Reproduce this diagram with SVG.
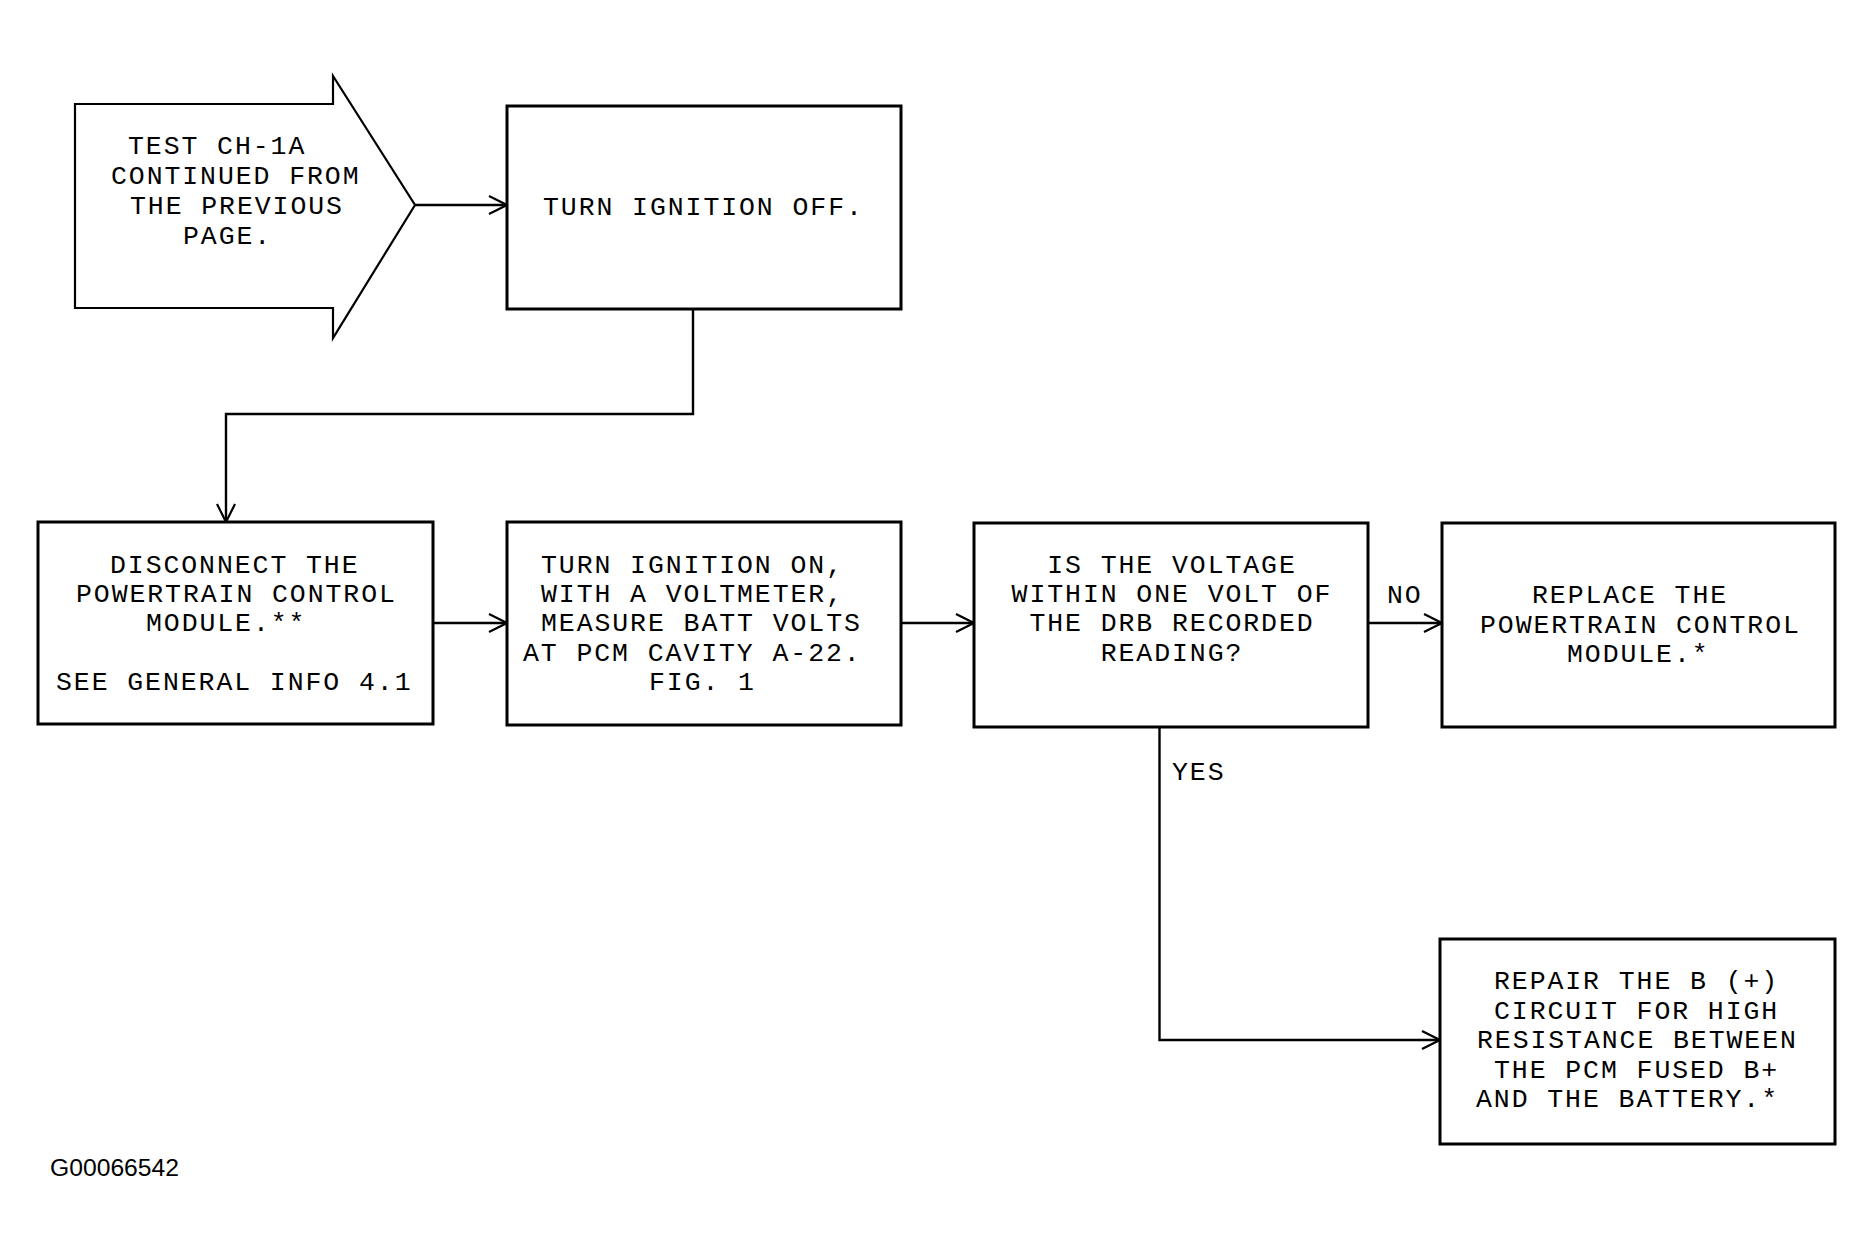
<svg xmlns="http://www.w3.org/2000/svg" width="1874" height="1252" viewBox="0 0 1874 1252">
<style>
  .box { fill: #ffffff; stroke: #000000; stroke-width: 3; }
  .shape { fill: #ffffff; stroke: #000000; stroke-width: 2.2; stroke-linejoin: miter; }
  .conn { fill: none; stroke: #000000; stroke-width: 2.4; }
  .t { font-family: "Liberation Mono", "Courier New", monospace; font-size: 26.5px; letter-spacing: 1.92px; fill: #000000; }
  .m { text-anchor: middle; }
  .id { font-family: "Liberation Sans", Arial, sans-serif; font-size: 24.7px; fill: #000000; }
</style>
<defs>
  <marker id="arr" viewBox="0 0 20 20" refX="19" refY="10" markerWidth="20" markerHeight="20" markerUnits="userSpaceOnUse" orient="auto">
    <path d="M1,1 L19,10 L1,19" fill="none" stroke="#000000" stroke-width="2.2"/>
  </marker>
</defs>
<rect x="0" y="0" width="1874" height="1252" fill="#ffffff"/>

<g id="connectors">
  <path class="conn" d="M415,205 L507,205" marker-end="url(#arr)"/>
  <path class="conn" d="M693,309 L693,414 L226,414 L226,522" marker-end="url(#arr)"/>
  <path class="conn" d="M433,623 L507,623" marker-end="url(#arr)"/>
  <path class="conn" d="M901,623 L974,623" marker-end="url(#arr)"/>
  <path class="conn" d="M1368,623 L1442,623" marker-end="url(#arr)"/>
  <path class="conn" d="M1159.5,727 L1159.5,1040 L1440,1040" marker-end="url(#arr)"/>
  <text class="t" x="1387" y="603">NO</text>
  <text class="t" x="1172" y="780">YES</text>
</g>

<g id="start">
  <path class="shape" d="M75,104 L333,104 L333,76 L415,205 L333,338 L333,308 L75,308 Z"/>
  <text class="t" x="128" y="154">TEST CH-1A</text>
  <text class="t" x="111" y="184">CONTINUED FROM</text>
  <text class="t" x="130" y="214">THE PREVIOUS</text>
  <text class="t" x="183" y="244">PAGE.</text>
</g>

<g id="ign-off">
  <rect class="box" x="507" y="106" width="394" height="203"/>
  <text class="t" x="543" y="215">TURN IGNITION OFF.</text>
</g>

<g id="disconnect">
  <rect class="box" x="38" y="522" width="395" height="202"/>
  <text class="t" x="110" y="572.7">DISCONNECT THE</text>
  <text class="t" x="76" y="602">POWERTRAIN CONTROL</text>
  <text class="t" x="146" y="631">MODULE.**</text>
  <text class="t" x="56" y="690">SEE GENERAL INFO 4.1</text>
</g>

<g id="ign-on">
  <rect class="box" x="507" y="522" width="394" height="203"/>
  <text class="t" x="541" y="572.7">TURN IGNITION ON,</text>
  <text class="t" x="541" y="602">WITH A VOLTMETER,</text>
  <text class="t" x="541" y="631">MEASURE BATT VOLTS</text>
  <text class="t" x="523" y="660.5">AT PCM CAVITY A-22.</text>
  <text class="t" x="649" y="690">FIG. 1</text>
</g>

<g id="question">
  <rect class="box" x="974" y="523" width="394" height="204"/>
  <text class="t m" x="1172" y="572.7">IS THE VOLTAGE</text>
  <text class="t m" x="1172" y="602">WITHIN ONE VOLT OF</text>
  <text class="t m" x="1172" y="631">THE DRB RECORDED</text>
  <text class="t m" x="1172" y="660.5">READING?</text>
</g>

<g id="replace">
  <rect class="box" x="1442" y="523" width="393" height="204"/>
  <text class="t" x="1532" y="603">REPLACE THE</text>
  <text class="t" x="1480" y="632.5">POWERTRAIN CONTROL</text>
  <text class="t" x="1567" y="662">MODULE.*</text>
</g>

<g id="repair">
  <rect class="box" x="1440" y="939" width="395" height="205"/>
  <text class="t" x="1494" y="989">REPAIR THE B (+)</text>
  <text class="t" x="1494" y="1018.5">CIRCUIT FOR HIGH</text>
  <text class="t" x="1477" y="1048">RESISTANCE BETWEEN</text>
  <text class="t" x="1494" y="1077.5">THE PCM FUSED B+</text>
  <text class="t" x="1476" y="1107">AND THE BATTERY.*</text>
</g>

<g id="figure-id">
  <text class="id" x="50" y="1176">G00066542</text>
</g>
</svg>
